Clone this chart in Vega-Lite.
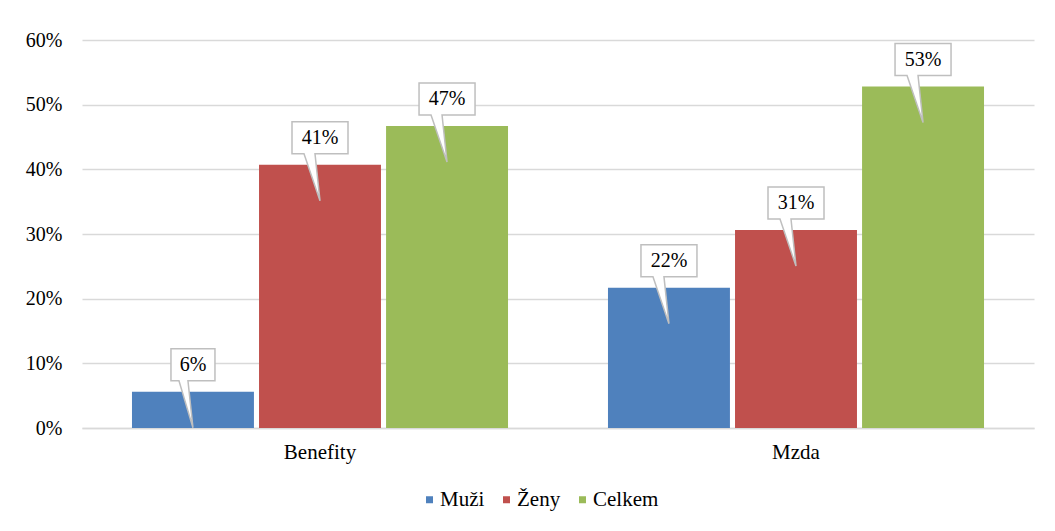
{
  "$schema": "https://vega.github.io/schema/vega-lite/v6.json",
  "width": 952,
  "height": 388,
  "autosize": {"type": "none"},
  "padding": {"left": 82, "top": 40, "right": 21, "bottom": 103},
  "background": "white",
  "config": {
    "font": "Liberation Serif",
    "view": {"stroke": null},
    "text": {"font": "Liberation Serif"},
    "axis": {"labelFont": "Liberation Serif", "labelFontSize": 20, "labelColor": "#000000"},
    "legend": {"labelFont": "Liberation Serif", "labelFontSize": 21, "labelColor": "#000000"}
  },
  "data": {
    "values": [
      {"category": "Benefity", "series": "Muži", "value": 0.056},
      {"category": "Benefity", "series": "Ženy", "value": 0.407},
      {"category": "Benefity", "series": "Celkem", "value": 0.467},
      {"category": "Mzda", "series": "Muži", "value": 0.217},
      {"category": "Mzda", "series": "Ženy", "value": 0.306},
      {"category": "Mzda", "series": "Celkem", "value": 0.528}
    ]
  },
  "encoding": {
    "x": {
      "field": "category",
      "type": "nominal",
      "scale": {"paddingInner": 0.21, "paddingOuter": 0.105},
      "axis": {"title": null, "labelAngle": 0, "ticks": false, "domain": true, "domainColor": "#D9D9D9", "domainWidth": 1.5, "labelPadding": 13, "grid": false, "labelFont": "Liberation Serif", "labelFontSize": 21}
    },
    "xOffset": {
      "field": "series",
      "type": "nominal",
      "sort": ["Muži", "Ženy", "Celkem"],
      "scale": {"paddingInner": 0.04, "paddingOuter": 0}
    },
    "y": {
      "field": "value",
      "type": "quantitative",
      "scale": {"domain": [0, 0.6]},
      "axis": {"title": null, "format": ".0%", "values": [0, 0.1, 0.2, 0.3, 0.4, 0.5, 0.6], "ticks": false, "domain": false, "gridColor": "#D9D9D9", "gridWidth": 1.5, "labelPadding": 20, "labelFont": "Liberation Serif", "labelFontSize": 20}
    }
  },
  "layer": [
    {
      "mark": {"type": "bar"},
      "encoding": {
        "color": {
          "field": "series",
          "type": "nominal",
          "scale": {"domain": ["Muži", "Ženy", "Celkem"], "range": ["#4F81BD", "#C0504D", "#9BBB59"]},
          "legend": {"title": null, "orient": "none", "legendX": 337, "legendY": 449, "direction": "horizontal", "symbolType": "square", "symbolSize": 49, "symbolStrokeWidth": 0, "labelOffset": 0, "columnPadding": 11, "labelFont": "Liberation Serif", "labelFontSize": 21}
        }
      }
    },
    {
      "transform": [{"filter": "datum.value >= 0.1"}],
      "mark": {"type": "point", "filled": true, "fill": "white", "stroke": "#BFBFBF", "strokeWidth": 1.5, "opacity": 1, "size": 4,
        "shape": "M-28,-43 L28,-43 L28,-11 L-5,-11 L0,36 L-16,-11 L-28,-11 Z"}
    },
    {
      "transform": [{"filter": "datum.value < 0.1"}],
      "mark": {"type": "point", "filled": true, "fill": "white", "stroke": "#BFBFBF", "strokeWidth": 1.5, "opacity": 1, "size": 4,
        "shape": "M-22,-43 L22,-43 L22,-11 L-5,-11 L0,36 L-14,-11 L-22,-11 Z"}
    },
    {
      "mark": {"type": "text", "fontSize": 20, "font": "Liberation Serif", "color": "#000000", "baseline": "middle", "dy": -27},
      "encoding": {
        "text": {"field": "value", "type": "quantitative", "format": ".0%"}
      }
    }
  ]
}
